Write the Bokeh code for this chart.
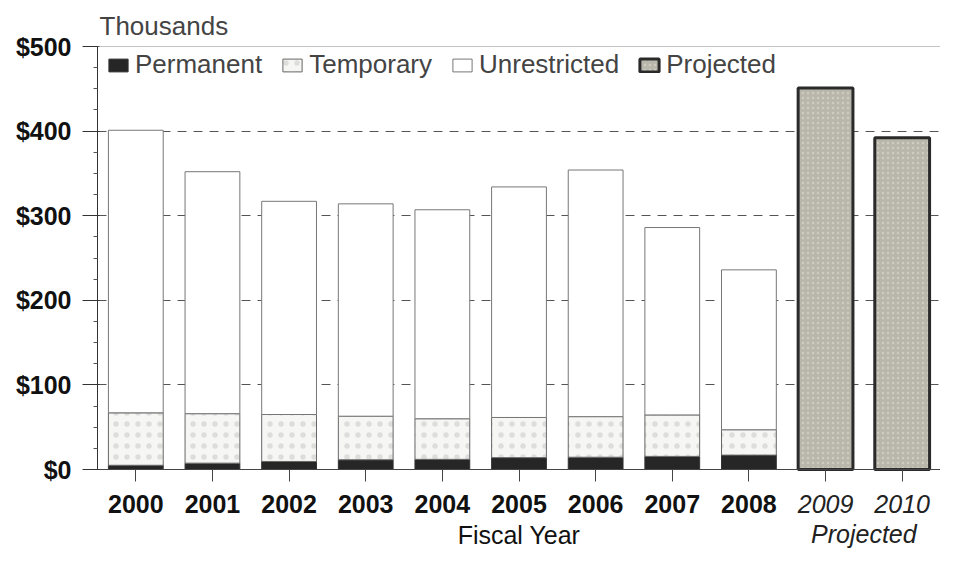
from bokeh.plotting import figure
from bokeh.models import (ColumnDataSource, FixedTicker, NumeralTickFormatter, Legend, LegendItem,
                          Range1d, LinearAxis, Span)
from bokeh.embed import file_html
from bokeh.resources import INLINE

years = ["2000", "2001", "2002", "2003", "2004", "2005", "2006", "2007", "2008", "2009", "2010"]
actual_years = years[:9]
projected_years = years[9:]
permanent = [5, 7.5, 9.5, 11.5, 12, 14, 14.5, 15.5, 17]
temporary = [62, 58.5, 55.5, 51.5, 48, 47.5, 48, 49, 30]
unrestricted = [334, 286, 252, 251, 247, 272.5, 291.5, 221.5, 189]
projected = [451, 392]
y_ticks = [0, 100, 200, 300, 400, 500]
projected_caption = "Projected"

FONT = "Liberation Sans"
pos = {y: i for i, y in enumerate(years)}

# layout: value axis 0..500 occupies 423px; frame extends below it to hold the year labels
W, H, TOP, LEFT = 940, 551, 46, 97
AXIS_PX = 423.0
frame_h = H - TOP
y_lo = -(frame_h * 500.0 / AXIS_PX - 500.0)

p = figure(x_range=Range1d(-0.5, len(years) - 0.5), y_range=Range1d(y_lo, 500),
           width=W, height=H, output_backend="svg", toolbar_location=None,
           x_axis_location=None,
           min_border_left=LEFT, min_border_right=0, min_border_top=TOP, min_border_bottom=0)

src = ColumnDataSource(dict(x=[pos[y] for y in actual_years], permanent=permanent,
                            temporary=temporary, unrestricted=unrestricted))
r_perm, r_temp, r_unr = p.vbar_stack(
    ["permanent", "temporary", "unrestricted"], x="x", width=0.715, source=src,
    fill_color=["#262626", "#f6f6f4", "#ffffff"],
    line_color=["#333333", "#666666", "#777777"], line_width=1)
r_temp.glyph.hatch_pattern = "."
r_temp.glyph.hatch_color = "#9a9a9a"
r_temp.glyph.hatch_scale = 11
r_temp.glyph.hatch_alpha = 0.28

psrc = ColumnDataSource(dict(x=[pos[y] for y in projected_years], total=projected))
r_proj = p.vbar(x="x", top="total", width=0.715, source=psrc,
                fill_color="#b9b6ab", line_color="#2a2a2a", line_width=3,
                hatch_pattern=".", hatch_color="#dcd9cf", hatch_scale=5, hatch_alpha=0.6)

legend = Legend(items=[LegendItem(label="Permanent", renderers=[r_perm]),
                       LegendItem(label="Temporary", renderers=[r_temp]),
                       LegendItem(label="Unrestricted", renderers=[r_unr]),
                       LegendItem(label="Projected", renderers=[r_proj])],
                orientation="horizontal", location=(9, frame_h - 4 - 30),
                label_text_font=FONT, label_text_font_size="26px",
                glyph_width=24, glyph_height=16, label_height=26, label_standoff=5,
                spacing=18, padding=2, margin=0, border_line_color=None,
                background_fill_alpha=1.0)
p.add_layout(legend, "center")

# title
p.title.text = "Thousands"
p.title.text_font = FONT
p.title.text_font_size = "26px"
p.title.text_font_style = "normal"
p.title.align = "left"
p.title.offset = 2
p.title.standoff = 12

# y axis
p.yaxis.bounds = (0, 500)
p.yaxis.ticker = FixedTicker(ticks=y_ticks, minor_ticks=[v for v in range(0, 501, 25) if v % 100])
p.yaxis.formatter = NumeralTickFormatter(format="$0")
p.yaxis.major_label_text_font = FONT
p.yaxis.major_label_text_font_size = "25px"
p.yaxis.major_label_text_font_style = "bold"
p.yaxis.major_label_text_color = "#111111"
p.yaxis.major_tick_out = 15
p.yaxis.major_tick_in = 2
p.yaxis.minor_tick_out = 4
p.yaxis.minor_tick_in = 0
p.yaxis.major_label_standoff = 11
p.yaxis.axis_line_color = "#333333"
p.yaxis.major_tick_line_color = "#333333"
p.yaxis.minor_tick_line_color = "#555555"

# right border (light)
rb = LinearAxis(fixed_location=len(years) - 0.5, bounds=(0, 500),
                ticker=FixedTicker(ticks=[], minor_ticks=[]),
                axis_line_color="#aaaaaa", major_tick_line_color=None,
                minor_tick_line_color=None, major_label_text_font_size="0px")
p.add_layout(rb, "right")

# main x axis (bold actual years)
xa = LinearAxis(fixed_location=0,
                ticker=FixedTicker(ticks=list(range(len(years))), minor_ticks=[]),
                major_label_overrides={pos[y]: (y if y in actual_years else " ") for y in years},
                major_label_text_font=FONT, major_label_text_font_size="25px",
                major_label_text_font_style="bold", major_label_text_color="#111111",
                major_tick_out=12, major_tick_in=0, minor_tick_line_color=None,
                major_label_standoff=8, axis_line_color="#444444",
                major_tick_line_color="#444444",
                axis_label="Fiscal Year", axis_label_text_font=FONT,
                axis_label_text_font_size="25px", axis_label_text_font_style="normal",
                axis_label_text_color="#111111", axis_label_standoff=0)
p.add_layout(xa, "below")

# projected years, italic, at the same height as the main labels
pa = LinearAxis(fixed_location=0,
                ticker=FixedTicker(ticks=[pos[y] for y in projected_years], minor_ticks=[]),
                major_label_overrides={pos[y]: y for y in projected_years},
                major_label_text_font=FONT, major_label_text_font_size="25px",
                major_label_text_font_style="italic", major_label_text_color="#222222",
                major_tick_out=0, major_tick_in=0,
                major_label_standoff=25, axis_line_color=None,
                major_tick_line_color=None, minor_tick_line_color=None)
p.add_layout(pa, "below")

mid = (pos[projected_years[0]] + pos[projected_years[-1]]) / 2
ca = LinearAxis(fixed_location=0, ticker=FixedTicker(ticks=[mid], minor_ticks=[]),
                major_label_overrides={mid: projected_caption},
                major_label_text_font=FONT, major_label_text_font_size="25px",
                major_label_text_font_style="italic", major_label_text_color="#222222",
                major_tick_out=0, major_tick_in=0,
                major_label_standoff=50, axis_line_color=None,
                major_tick_line_color=None, minor_tick_line_color=None)
p.add_layout(ca, "below")

p.add_layout(Span(location=500, dimension="width", line_color="#888888", line_width=1))

p.xgrid.grid_line_color = None
p.ygrid.ticker = FixedTicker(ticks=[100, 200, 300, 400])
p.ygrid.grid_line_color = "#555555"
p.ygrid.grid_line_dash = "9 7"
p.ygrid.grid_line_width = 1
p.outline_line_color = None
p.background_fill_color = "white"
p.border_fill_color = "white"

open("out.html", "w").write(file_html(p, INLINE))
